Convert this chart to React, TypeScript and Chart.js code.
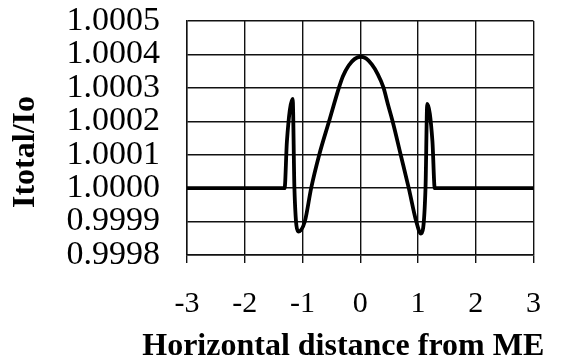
import React, { useEffect, useRef } from "react";
import { Chart, registerables } from "chart.js";

Chart.register(...registerables);

const xValues = [
  -3, -1.31, -1.27, -1.17, -1.14, -1.07, -0.96, -0.85, -0.71, -0.54, -0.37, -0.3, -0.2, -0.1, 0,
  0.1, 0.2, 0.3, 0.4, 0.48, 0.56, 0.7, 0.84, 0.97, 1.05, 1.13, 1.16, 1.25, 1.29, 3,
];
const yValues = [
  1.0, 1.0, 1.00014, 1.000267, 1.0, 0.99987, 0.9999, 1.0, 1.0001, 1.0002, 1.0003, 1.000335, 1.000367, 1.000386, 1.000393,
  1.000388, 1.00037, 1.000342, 1.000302, 1.00025, 1.0002, 1.0001, 1.0, 0.9999, 0.999864, 1.0, 1.000252, 1.00014, 1.0, 1.0,
];
const xTicks = [-3, -2, -1, 0, 1, 2, 3];
const yTicks = [0.9998, 0.9999, 1.0, 1.0001, 1.0002, 1.0003, 1.0004, 1.0005];
const xTitle = "Horizontal distance from ME";
const yTitle = "Itotal/Io";

const FONT = '"Liberation Serif", "Times New Roman", serif';

const axisTitlePlugin = {
  id: "axisTitlePlugin",
  afterDraw(chart: any) {
    const { ctx, chartArea } = chart;
    ctx.save();
    ctx.fillStyle = "#000";
    ctx.font = `bold 32px ${FONT}`;
    ctx.textAlign = "center";
    ctx.textBaseline = "middle";
    const cx = (chartArea.left + chartArea.right) / 2 - 17;
    ctx.fillText(xTitle, cx, chart.height - 14);
    ctx.translate(26, (chartArea.top + chartArea.bottom) / 2 + 14);
    ctx.rotate(-Math.PI / 2);
    ctx.fillText(yTitle, 0, 0);
    ctx.restore();
  },
};

export default function App() {
  const ref = useRef<HTMLCanvasElement | null>(null);

  useEffect(() => {
    document.body.style.margin = "0";
    const canvas = ref.current;
    if (!canvas) return;
    const chart = new Chart(canvas, {
      type: "line",
      data: {
        datasets: [
          {
            data: xValues.map((x, i) => ({ x, y: yValues[i] })),
            borderColor: "#000",
            borderWidth: 3.8,
            pointRadius: 0,
            cubicInterpolationMode: "monotone",
            borderJoinStyle: "round",
            borderCapStyle: "round",
            fill: false,
          },
        ],
      },
      options: {
        animation: false,
        responsive: true,
        maintainAspectRatio: false,
        layout: { padding: { top: 21, right: 27, left: 0, bottom: 0 } },
        plugins: { legend: { display: false }, tooltip: { enabled: false } },
        scales: {
          x: {
            type: "linear",
            min: -3,
            max: 3,
            afterBuildTicks: (s: any) => {
              s.ticks = xTicks.map((v) => ({ value: v }));
            },
            afterFit: (s: any) => {
              s.height = 106;
            },
            grid: { color: "#111", lineWidth: 1.4, tickLength: 8, drawTicks: true },
            border: { color: "#111", width: 1.4 },
            ticks: {
              color: "#000",
              font: { family: FONT, size: 30 },
              padding: 23,
              maxRotation: 0,
              autoSkip: false,
              callback: (v: any) => String(v),
            },
          },
          y: {
            type: "linear",
            min: 0.9998,
            max: 1.0005,
            afterBuildTicks: (s: any) => {
              s.ticks = yTicks.map((v) => ({ value: v }));
            },
            afterFit: (s: any) => {
              s.width = 187;
              s.paddingTop = 0;
              s.paddingBottom = 0;
            },
            grid: { color: "#111", lineWidth: 1.4, drawTicks: false },
            border: { color: "#111", width: 1.4 },
            ticks: {
              color: "#000",
              font: { family: FONT, size: 34, lineHeight: 1 },
              padding: 27,
              autoSkip: false,
              callback: (v: any) => Number(v).toFixed(4),
            },
          },
        },
      },
      plugins: [axisTitlePlugin],
    });
    return () => chart.destroy();
  }, []);

  return (
    <div style={{ width: 564, height: 361, position: "relative" }}>
      <canvas ref={ref} />
    </div>
  );
}
